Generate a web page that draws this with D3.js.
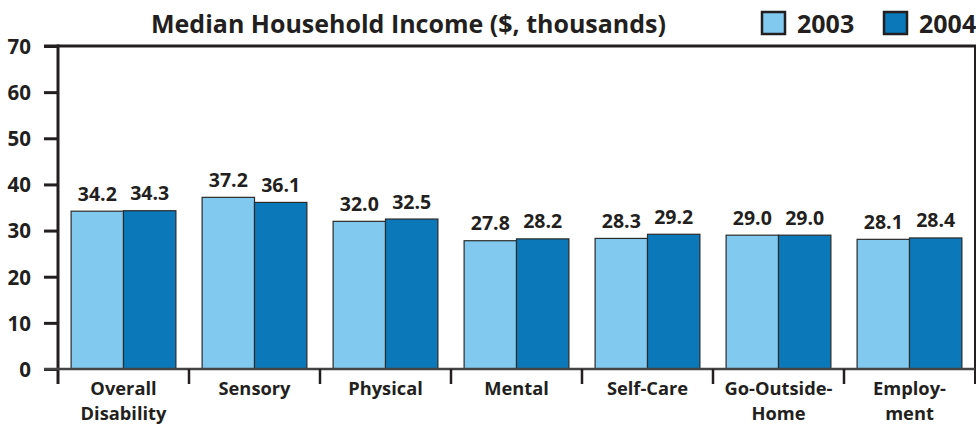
<!DOCTYPE html>
<html><head><meta charset="utf-8">
<script src="https://cdn.jsdelivr.net/npm/d3@7"></script>
<style>body{margin:0;background:#fff}svg{display:block}text{font-family:"Open Sans",sans-serif;font-weight:700;fill:#231f20}</style>
</head><body><svg id="c" width="976" height="426"></svg>
<script>
const categories = [["Overall","Disability"],["Sensory"],["Physical"],["Mental"],["Self-Care"],["Go-Outside-","Home"],["Employ-","ment"]];
const series = ["2003","2004"];
const values2003 = [34.2,37.2,32.0,27.8,28.3,29.0,28.1];
const values2004 = [34.3,36.1,32.5,28.2,29.2,29.0,28.4];
const yTicks = [0,10,20,30,40,50,60,70];
const title = "Median Household Income ($, thousands)";
const colors = ["#82c9ef","#0b79b9"];

const svg = d3.select("#c");
const L=58,R=975,T=46,B=369;
const x = d3.scaleBand().domain(d3.range(categories.length)).range([L,R]).paddingInner(0).paddingOuter(0);
const y = d3.scaleLinear().domain([0,70]).range([B,T]);
const inner = d3.scaleBand().domain(series).range([0,x.bandwidth()]).paddingOuter(0.25).paddingInner(0);
const data = [values2003, values2004];
const ink="#231f20";

// bars
categories.forEach((c,i)=>{
  series.forEach((s,j)=>{
    const v=data[j][i];
    svg.append("rect").attr("x",x(i)+inner(s)).attr("y",y(v)).attr("width",inner.bandwidth()).attr("height",B-y(v))
      .attr("fill",colors[j]).attr("stroke","#2a2a2a").attr("stroke-width",1.2);
    svg.append("text").attr("x",x(i)+inner(s)+inner.bandwidth()/2).attr("y",y(v)-10.5).attr("text-anchor","middle")
      .attr("font-size",19.5).text(v.toFixed(1));
  });
});

// y axis
const ya = svg.append("g").attr("transform",`translate(${L},0)`).call(d3.axisLeft(y).tickValues(yTicks).tickSize(14).tickPadding(13).tickFormat(d3.format("d")));
ya.select(".domain").remove();
ya.selectAll(".tick line").attr("stroke",ink).attr("stroke-width",3);
ya.selectAll(".tick text").attr("font-size",20.5).attr("font-family","Open Sans").attr("font-weight",700).attr("fill",ink).attr("dy","0.36em");
svg.append("line").attr("x1",L).attr("x2",L).attr("y1",T-1.5).attr("y2",B+15).attr("stroke",ink).attr("stroke-width",3);
svg.append("line").attr("x1",44).attr("x2",R+1).attr("y1",T).attr("y2",T).attr("stroke",ink).attr("stroke-width",3);
svg.append("line").attr("x1",R).attr("x2",R).attr("y1",T).attr("y2",B+15).attr("stroke",ink).attr("stroke-width",2);

// x axis
svg.append("line").attr("x1",44).attr("x2",R).attr("y1",B).attr("y2",B).attr("stroke","#444").attr("stroke-width",2.5);
const xEdges = d3.range(categories.length+1).map(i=> i<categories.length? x(i): R);
svg.selectAll(".xt").data(xEdges.slice(1,-1)).join("line").attr("x1",d=>d).attr("x2",d=>d).attr("y1",B).attr("y2",B+15).attr("stroke",ink).attr("stroke-width",2.5);
categories.forEach((c,i)=>{
  c.forEach((line,k)=>svg.append("text").attr("x",x(i)+x.bandwidth()/2).attr("y",395+k*25).attr("text-anchor","middle").attr("font-size",18.3).text(line));
});

// title
svg.append("text").attr("x",408.5).attr("y",33).attr("text-anchor","middle").attr("font-size",25).text(title);
// legend
const lx=[761,883];
series.forEach((s,j)=>{
  svg.append("rect").attr("x",lx[j]+1).attr("y",12).attr("width",23).attr("height",22).attr("fill",colors[j]).attr("stroke",ink).attr("stroke-width",2.5);
  svg.append("text").attr("x",lx[j]+36).attr("y",33).attr("font-size",25).text(s);
});
</script></body></html>
